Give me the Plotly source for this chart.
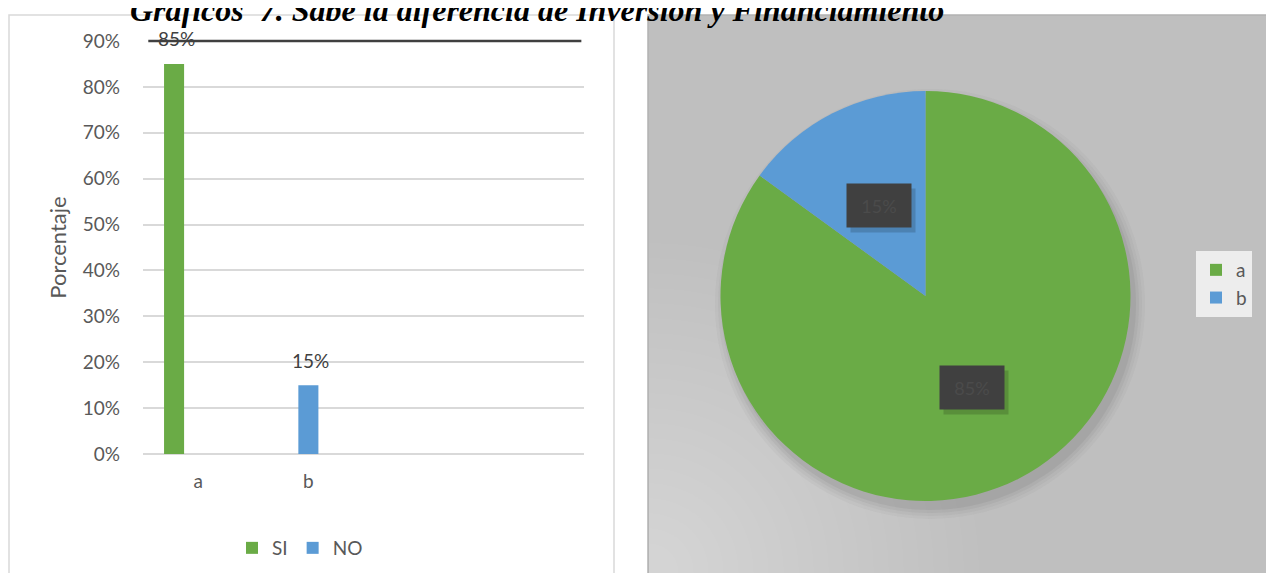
import math
import plotly.graph_objects as go

# ----------------------------------------------------------
# data
# ----------------------------------------------------------
categorias = ["a", "b"]
si_valores = [0.85, None]
no_valores = [None, 0.15]
vacio_valores = [None, None]          # third (empty) Excel series
pie_etiquetas = ["a", "b"]
pie_valores = [85, 15]
y_ticks = [0, 0.1, 0.2, 0.3, 0.4, 0.5, 0.6, 0.7, 0.8, 0.9]

VERDE = "#6aab46"
AZUL = "#5b9bd5"
GRIS_TXT = "#595959"
FONT = "Lato"

W, H = 1274, 573
OFF = 8   # page body margin


def px_x(v):
    return (v - OFF) / W


def px_y(v):
    return (H - (v - OFF)) / H


fig = go.Figure()

fig.add_trace(go.Bar(
    x=categorias, y=si_valores, name="SI",
    marker=dict(color=VERDE, line=dict(width=0)),
    legend="legend"
))
fig.add_trace(go.Bar(
    x=categorias, y=no_valores, name="NO",
    marker=dict(color=AZUL, line=dict(width=0)),
    legend="legend"
))
fig.add_trace(go.Bar(
    x=categorias, y=vacio_valores, name="",
    showlegend=False, hoverinfo="skip"
))

fig.add_trace(go.Pie(
    labels=pie_etiquetas, values=pie_valores,
    marker=dict(colors=[VERDE, AZUL], line=dict(width=0)),
    sort=False, direction="clockwise", rotation=0,
    textinfo="none",
    domain=dict(x=[px_x(720.5), px_x(1130.5)], y=[px_y(501), px_y(91)]),
    legend="legend2"
))

# bar value labels (above the bars, Excel style)
offsets = [-24, 0]
for serie, dx in zip([si_valores, no_valores], offsets):
    for cat, val in zip(categorias, serie):
        if val is None:
            continue
        fig.add_annotation(
            x=cat, y=val, xref="x", yref="y",
            text=f"{val:.0%}", showarrow=False,
            xshift=dx + 2, yshift=25,
            font=dict(family=FONT, size=19, color="#404040")
        )

# pie data labels (dark boxes with a drop shadow)
pie_cajas = [(972, 387.5), (879, 205.5)]
for (cx, cy), val in zip(pie_cajas, pie_valores):
    fig.add_annotation(
        x=px_x(cx + 4), y=px_y(cy + 5), xref="paper", yref="paper",
        xanchor="center", yanchor="middle",
        text=" ", showarrow=False, width=62, height=41,
        bgcolor="rgba(0,0,0,0.16)"
    )
    fig.add_annotation(
        x=px_x(cx), y=px_y(cy), xref="paper", yref="paper",
        xanchor="center", yanchor="middle",
        text=f"{val}%", showarrow=False, width=62, height=41,
        bgcolor="#404040",
        font=dict(family=FONT, size=18, color="#4b4b4b")
    )

# title
fig.add_annotation(
    x=px_x(537), y=px_y(10), xref="paper", yref="paper",
    xanchor="center", yanchor="middle",
    text="<b><i>Gráficos  7. Sabe la diferencia de Inversión y Financiamiento</i></b>",
    showarrow=False,
    font=dict(family="Liberation Serif", size=32, color="#000000")
)

shapes = [
    # left chart border
    dict(type="rect", xref="paper", yref="paper",
         x0=px_x(9), x1=px_x(614), y0=px_y(590), y1=px_y(15),
         line=dict(color="#d9d9d9", width=1.5), layer="below"),
    # right chart background
    dict(type="rect", xref="paper", yref="paper",
         x0=px_x(648), x1=px_x(1268), y0=px_y(590), y1=px_y(15),
         fillcolor="#bfbfbf", line=dict(color="#b3b3b3", width=1.5),
         layer="below"),
    # dark line at the top of the value axis
    dict(type="line", xref="x domain", yref="y domain",
         x0=0.012, x1=0.994, y0=1, y1=1,
         line=dict(color="#404040", width=2.5), layer="above"),
]

# lighter glow in the lower-left corner of the pie panel
for rad in range(330, 20, -15):
    pts = []
    for k in range(0, 31):
        ang = math.radians(90 * k / 30)
        pts.append((649 + rad * math.cos(ang), 573 - rad * math.sin(ang)))
    path = f"M {px_x(649)},{px_y(573)} " + " ".join(
        f"L {px_x(x)},{px_y(y)}" for x, y in pts) + " Z"
    shapes.append(dict(type="path", xref="paper", yref="paper", path=path,
                       fillcolor="rgba(255,255,255,0.022)",
                       line=dict(width=0), layer="below"))

# soft shadow under the pie (falls down and to the right)
cx, cy, r = 930, 304, 205
for r_extra, alpha in [(10, 0.035), (7, 0.045), (4, 0.06), (1, 0.07)]:
    shapes.append(dict(
        type="circle", xref="paper", yref="paper",
        x0=px_x(cx - r - r_extra), x1=px_x(cx + r + r_extra),
        y0=px_y(cy + r + r_extra), y1=px_y(cy - r - r_extra),
        fillcolor=f"rgba(60,60,60,{alpha})", line=dict(width=0),
        layer="below"))

fig.update_layout(
    width=W, height=H,
    margin=dict(l=0, r=0, t=0, b=0, autoexpand=False),
    paper_bgcolor="white",
    plot_bgcolor="rgba(0,0,0,0)",
    barmode="group",
    bargap=0.3455,
    bargroupgap=0.1667,
    font=dict(family=FONT, size=19, color=GRIS_TXT),
    shapes=shapes,
    xaxis=dict(
        domain=[px_x(143), px_x(584)],
        type="category", range=[-0.5, 3.5],
        showgrid=False, zeroline=False, showline=False,
        ticks="", ticklabelstandoff=14,
        tickfont=dict(family=FONT, size=19, color=GRIS_TXT),
        fixedrange=True
    ),
    yaxis=dict(
        domain=[px_y(454), px_y(41)],
        range=[0, 0.9], tickvals=y_ticks, tickformat=".0%",
        showgrid=True, gridcolor="#d9d9d9", gridwidth=1.5,
        zeroline=True, zerolinecolor="#d9d9d9", zerolinewidth=1.5,
        showline=False, ticks="", ticklabelstandoff=22,
        tickfont=dict(family=FONT, size=19, color=GRIS_TXT),
        title=dict(text="Porcentaje", standoff=10,
                   font=dict(family=FONT, size=22, color=GRIS_TXT)),
        fixedrange=True
    ),
    legend=dict(
        orientation="h", x=px_x(300), y=px_y(548),
        xanchor="center", yanchor="middle",
        bgcolor="rgba(0,0,0,0)", itemwidth=30,
        font=dict(family=FONT, size=19, color=GRIS_TXT)
    ),
    legend2=dict(
        orientation="v", x=px_x(1196), y=px_y(251),
        xanchor="left", yanchor="top",
        bgcolor="#ededed", itemwidth=30,
        tracegroupgap=0,
        font=dict(family=FONT, size=19, color=GRIS_TXT)
    ),
)

fig.write_html("out.html")
